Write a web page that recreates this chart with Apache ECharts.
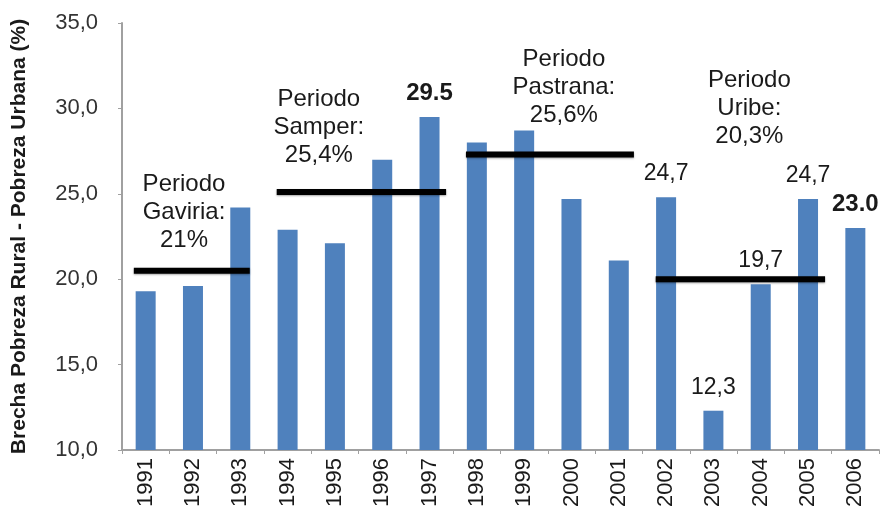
<!DOCTYPE html>
<html>
<head>
<meta charset="utf-8">
<script src="https://cdn.jsdelivr.net/npm/echarts@6/dist/echarts.min.js"></script>
<style>
html,body{margin:0;padding:0;background:#fff;}
#chart{width:882px;height:516px;}
</style>
</head>
<body>
<div id="chart"></div>
<script>
// ---- data ----
var years = ['1991','1992','1993','1994','1995','1996','1997','1998','1999','2000','2001','2002','2003','2004','2005','2006'];
var gap = [19.3, 19.6, 24.2, 22.9, 22.1, 27.0, 29.5, 28.0, 28.7, 24.7, 21.1, 24.8, 12.3, 19.7, 24.7, 23.0];
var valueLabels = ['', '', '', '', '', '', '29.5', '', '', '', '', '24,7', '12,3', '19,7', '24,7', '23.0'];
var boldLabels = [false,false,false,false,false,false,true,false,false,false,false,false,false,false,false,true];
var yTickLabels = ['10,0','15,0','20,0','25,0','30,0','35,0'];
var periodNames = ['Periodo\nGaviria:\n21%', 'Periodo\nSamper:\n25,4%', 'Periodo\nPastrana:\n25,6%', 'Periodo\nUribe:\n20,3%'];
var periodLevel = [20.5, 25.1, 27.3, 20.0];
var periodStart = [-0.25, 2.77, 6.77, 10.78];
var periodEnd = [2.2, 6.35, 10.32, 14.36];
var periodTextAt = [[0.81, 23.9], [3.66, 28.9], [8.84, 31.25], [12.76, 30.0]];

var barData = gap.map(function (v, i) {
  var item = { value: v };
  if (valueLabels[i]) {
    item.label = {
      show: true,
      position: 'top',
      distance: 12,
      formatter: valueLabels[i],
      fontFamily: 'Liberation Sans',
      fontSize: boldLabels[i] ? 24 : 23,
      fontWeight: boldLabels[i] ? 'bold' : 'normal',
      color: '#1a1a1a'
    };
  }
  return item;
});

var series = [{
  type: 'bar',
  data: barData,
  barWidth: 20,
  itemStyle: { color: '#4f81bd' },
  z: 2
}];

periodLevel.forEach(function (lvl, i) {
  series.push({
    type: 'line',
    xAxisIndex: 1,
    data: [[periodStart[i], lvl], [periodEnd[i], lvl]],
    symbol: 'none',
    lineStyle: { color: '#000', width: 6, shadowColor: 'rgba(0,0,0,0.35)', shadowOffsetY: 1, shadowBlur: 2 },
    z: 5,
    silent: true
  });
});

series.push({
  type: 'scatter',
  xAxisIndex: 1,
  symbolSize: 0,
  itemStyle: { opacity: 1 },
  data: periodTextAt.map(function (p, i) { return { value: p, name: periodNames[i] }; }),
  label: {
    show: true,
    position: 'inside',
    formatter: function (p) { return p.name; },
    fontFamily: 'Liberation Sans',
    fontSize: 24,
    lineHeight: 28,
    align: 'center',
    verticalAlign: 'middle',
    color: '#1a1a1a'
  },
  z: 6,
  silent: true
});

var chart = echarts.init(document.getElementById('chart'));
chart.setOption({
  animation: false,
  backgroundColor: '#fff',
  grid: { left: 122, right: 3, top: 23, bottom: 66, containLabel: false },
  xAxis: [{
    type: 'category',
    data: years,
    boundaryGap: true,
    axisLine: { onZero: false, lineStyle: { color: '#a0a0a0', width: 2 } },
    axisTick: { show: true, length: 4, lineStyle: { color: '#a0a0a0' } },
    axisLabel: {
      rotate: 90,
      interval: 0,
      margin: 8,
      fontFamily: 'Liberation Sans',
      fontSize: 22,
      color: '#1a1a1a'
    },
    splitLine: { show: false }
  }, {
    type: 'value',
    min: -0.5,
    max: 15.5,
    show: false
  }],
  yAxis: {
    type: 'value',
    min: 10,
    max: 35,
    interval: 5,
    name: 'Brecha Pobreza Rural - Pobreza Urbana (%)',
    nameLocation: 'middle',
    nameGap: 92,
    nameTextStyle: { fontFamily: 'Liberation Sans', fontSize: 21, fontWeight: 'bold', color: '#1a1a1a' },
    axisLine: { show: true, onZero: false, lineStyle: { color: '#a0a0a0', width: 2 } },
    axisTick: { show: true, length: 4, lineStyle: { color: '#a0a0a0' } },
    axisLabel: {
      margin: 24,
      fontFamily: 'Liberation Sans',
      fontSize: 22,
      color: '#333',
      formatter: function (v) { return yTickLabels[Math.round((v - 10) / 5)]; }
    },
    splitLine: { show: false }
  },
  series: series
});
</script>
</body>
</html>
